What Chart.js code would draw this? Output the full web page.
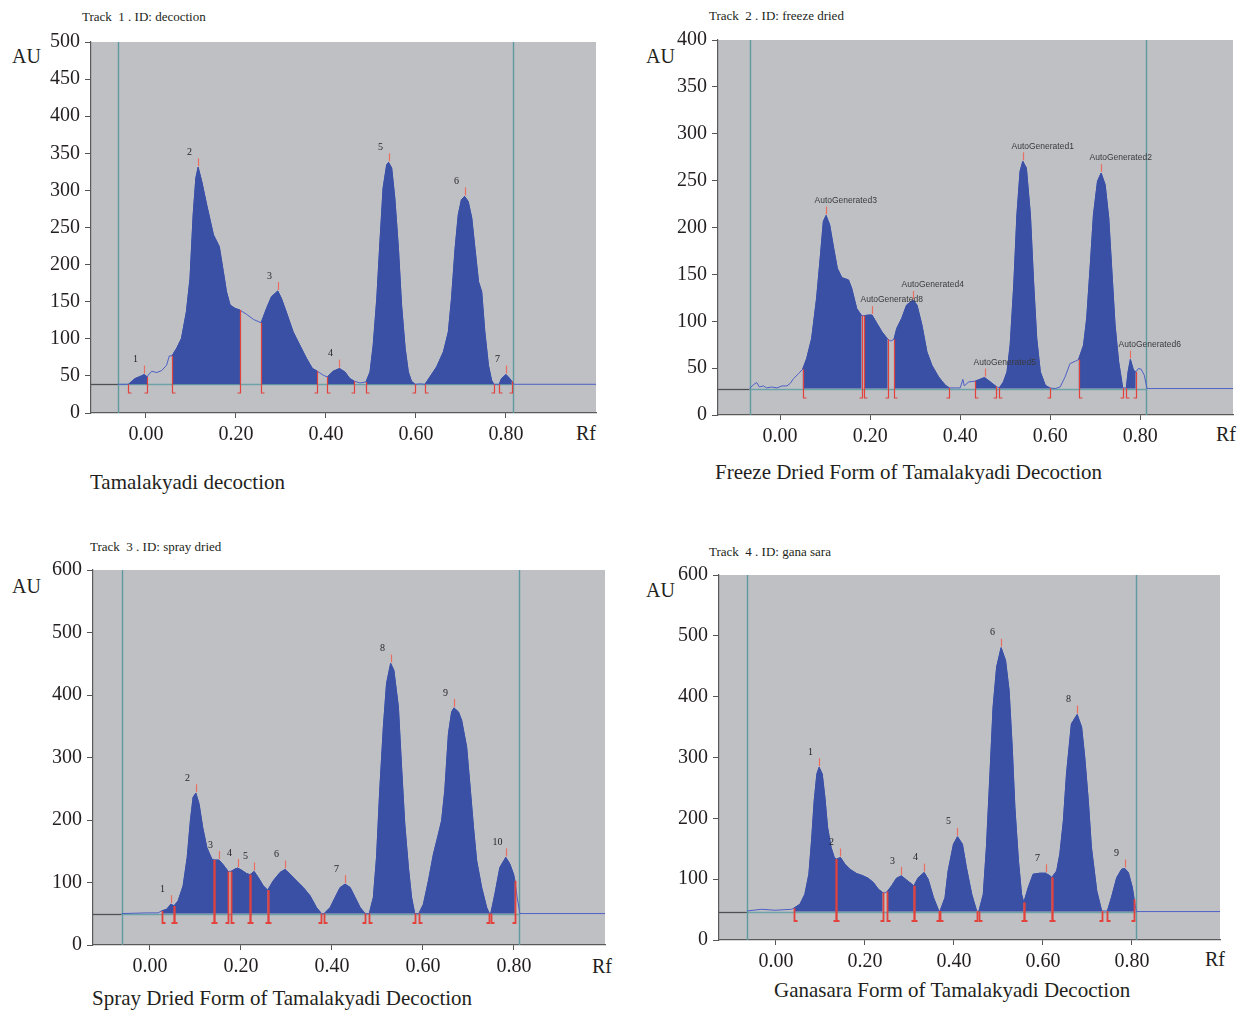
<!DOCTYPE html>
<html>
<head>
<meta charset="utf-8">
<script src="https://cdn.jsdelivr.net/npm/chart.js@4.4.1/dist/chart.umd.min.js"></script>
<style>
  body { margin: 0; width: 1247px; height: 1011px; background: #fff; position: relative; overflow: hidden;
         font-family: "Liberation Serif", "DejaVu Serif", serif; color: #231f20; }
  .box { position: absolute; }
  .txt { position: absolute; white-space: pre; line-height: 1; }
  .track { font-size: 13px; }
  .big { font-size: 20px; }
  .cap { font-size: 21px; }
</style>
</head>
<body>

<div class="txt track" style="left:82px;top:10px">Track  1 . ID: decoction</div>
<div class="txt big" style="left:12px;top:46px">AU</div>
<div class="txt big" style="left:576px;top:423px">Rf</div>
<div class="txt cap" style="left:90px;top:472px">Tamalakyadi decoction</div>
<div class="box" style="left:31px;top:25px;width:575px;height:428px"><canvas id="c1"></canvas></div>

<div class="txt track" style="left:709px;top:9px">Track  2 . ID: freeze dried</div>
<div class="txt big" style="left:646px;top:46px">AU</div>
<div class="txt big" style="left:1216px;top:424px">Rf</div>
<div class="txt cap" style="left:715px;top:462px">Freeze Dried Form of Tamalakyadi Decoction</div>
<div class="box" style="left:658px;top:23px;width:585px;height:432px"><canvas id="c2"></canvas></div>

<div class="txt track" style="left:90px;top:540px">Track  3 . ID: spray dried</div>
<div class="txt big" style="left:12px;top:576px">AU</div>
<div class="txt big" style="left:592px;top:956px">Rf</div>
<div class="txt cap" style="left:92px;top:988px">Spray Dried Form of Tamalakyadi Decoction</div>
<div class="box" style="left:33px;top:553px;width:582px;height:432px"><canvas id="c3"></canvas></div>

<div class="txt track" style="left:709px;top:545px">Track  4 . ID: gana sara</div>
<div class="txt big" style="left:646px;top:580px">AU</div>
<div class="txt big" style="left:1205px;top:949px">Rf</div>
<div class="txt cap" style="left:774px;top:980px">Ganasara Form of Tamalakyadi Decoction</div>
<div class="box" style="left:659px;top:558px;width:571px;height:422px"><canvas id="c4"></canvas></div>

<script>
const rfTicks = [0, 0.2, 0.4, 0.6, 0.8];

// Track 1: decoction
const t1Rf = [-0.062, -0.039, -0.024, -0.010, -0.004, 0.003, 0.005, 0.013, 0.024, 0.035, 0.046, 0.052,
  0.058, 0.068, 0.079, 0.090, 0.098, 0.105, 0.111, 0.116, 0.124, 0.135, 0.150, 0.163, 0.172, 0.179, 0.187, 0.198, 0.209,
  0.224, 0.239, 0.256, 0.268, 0.279, 0.293, 0.301, 0.313, 0.327, 0.342, 0.357, 0.370, 0.381,
  0.394, 0.403, 0.416, 0.430, 0.442, 0.453, 0.463, 0.476,
  0.489, 0.498, 0.505, 0.513, 0.520, 0.527, 0.535, 0.539, 0.546, 0.553, 0.561, 0.568, 0.576, 0.583, 0.590, 0.598,
  0.610, 0.620, 0.631, 0.646, 0.661, 0.672, 0.679, 0.687, 0.694, 0.701, 0.708, 0.716, 0.724, 0.731, 0.739, 0.746,
  0.753, 0.761, 0.768, 0.773, 0.785, 0.790, 0.800, 0.807, 0.813, 0.818, 1.02];
const t1Au = [38.7, 38.7, 46.4, 50.0, 51.8, 48.6, 51.0, 56.3, 54.5, 57.2, 64.4, 77.0,
  77.0, 86.9, 100.5, 136.5, 181.5, 267.1, 316.7, 331.1, 312.2, 280.6, 240.1, 224.3, 190.5, 163.5, 145.5, 141.0, 138.7,
  132.9, 126.1, 121.6, 141.0, 156.8, 164.4, 154.5, 134.2, 109.5, 91.4, 73.4, 59.9, 56.3,
  50.9, 48.6, 56.3, 59.9, 55.4, 46.4, 42.8, 40.5,
  41.9, 55.4, 91.4, 154.5, 231.1, 303.2, 334.7, 337.8, 330.2, 289.6, 222.1, 145.5, 86.9, 55.4, 42.8, 38.7,
  39.5, 38.7, 48.6, 62.2, 82.4, 109.5, 154.5, 222.1, 267.1, 287.4, 291.9, 285.1, 262.6, 222.1, 177.0, 163.5,
  109.5, 64.4, 44.1, 38.7, 38.7, 46.4, 51.8, 47.3, 42.8, 38.7, 38.7];
const t1Base = 38.7;
const t1Front = [-0.062, 0.815];
const t1Start = [-0.039, 0.058, 0.256, 0.403, 0.489, 0.620, 0.785];
const t1Top = [-0.004, 0.116, 0.293, 0.430, 0.539, 0.708, 0.800];
const t1End = [0.003, 0.209, 0.381, 0.463, 0.598, 0.773, 0.813];
const t1Names = ['1', '2', '3', '4', '5', '6', '7'];

// Track 2: freeze dried
const t2Rf = [-0.068, -0.059, -0.052, -0.046, -0.037, -0.030, -0.019, -0.007, 0.004, 0.015, 0.022, 0.030, 0.041,
  0.050, 0.059, 0.070, 0.081, 0.089, 0.096, 0.102, 0.110, 0.119, 0.127, 0.137, 0.152, 0.159, 0.170, 0.181,
  0.187, 0.196, 0.204, 0.215, 0.226, 0.239, 0.246,
  0.253, 0.259, 0.270, 0.281, 0.295, 0.304, 0.315, 0.326, 0.337, 0.352, 0.367, 0.376,
  0.389, 0.400, 0.406, 0.409, 0.419, 0.433, 0.444, 0.454, 0.467, 0.480,
  0.487, 0.496, 0.504, 0.511, 0.519, 0.526, 0.533, 0.539, 0.547, 0.556, 0.563, 0.570, 0.578, 0.589, 0.599,
  0.611, 0.622, 0.633, 0.644, 0.656, 0.663, 0.674, 0.681, 0.689, 0.696, 0.705, 0.713, 0.722, 0.730, 0.737, 0.744,
  0.752, 0.761, 0.769, 0.773, 0.778, 0.785, 0.790, 0.796, 0.802, 0.809, 0.815, 1.02];
const t2Au = [28.2, 32.4, 34.6, 29.9, 31.0, 28.9, 29.9, 28.9, 31.0, 31.0, 33.5, 38.9, 44.2,
  48.8, 60.2, 81.6, 124.4, 167.2, 206.4, 212.8, 202.9, 177.9, 156.5, 146.5, 144.0, 135.1, 113.7, 105.9,
  105.9, 106.6, 106.6, 97.7, 88.8, 80.9, 78.8,
  80.9, 92.3, 103.0, 117.3, 122.6, 117.3, 95.9, 67.4, 53.1, 40.6, 31.7, 28.9,
  28.9, 28.9, 38.1, 31.0, 35.3, 36.0, 38.1, 39.9, 35.3, 30.3,
  28.9, 35.3, 46.0, 74.5, 138.7, 213.5, 259.9, 270.6, 263.5, 213.5, 142.2, 81.6, 46.0, 31.7, 28.9,
  28.2, 29.9, 40.6, 54.9, 57.4, 59.2, 74.5, 103.0, 160.1, 213.5, 249.2, 258.1, 245.6, 210.0, 152.9, 95.9,
  56.7, 28.9, 28.9, 46.0, 59.2, 47.8, 46.0, 49.6, 48.8, 42.4, 28.2, 28.2];
const t2Base = 28.2;
const t2Front = [-0.068, 0.813];
const t2Start = [0.050, 0.187, 0.253, 0.433, 0.487, 0.663, 0.769];
const t2Top = [0.102, 0.204, 0.295, 0.454, 0.539, 0.713, 0.778];
const t2End = [0.181, 0.239, 0.376, 0.480, 0.599, 0.761, 0.790];
const t2Names = ['AutoGenerated3', 'AutoGenerated8', 'AutoGenerated4', 'AutoGenerated5', 'AutoGenerated1', 'AutoGenerated2', 'AutoGenerated6'];

// Track 3: spray dried
const t3Rf = [-0.062, -0.037, -0.007, 0.018, 0.026, 0.037, 0.046, 0.053, 0.062, 0.073, 0.082, 0.089, 0.095, 0.101,
  0.108, 0.116, 0.125, 0.136, 0.141, 0.152, 0.161, 0.172, 0.178, 0.187, 0.193, 0.201, 0.212, 0.220, 0.229, 0.238,
  0.249, 0.259, 0.271, 0.286, 0.297, 0.308, 0.322, 0.337, 0.352, 0.366, 0.377,
  0.383, 0.396, 0.407, 0.418, 0.429, 0.440, 0.451, 0.462, 0.473,
  0.482, 0.491, 0.498, 0.505, 0.513, 0.520, 0.529, 0.536, 0.546, 0.553, 0.560, 0.568, 0.575, 0.582,
  0.591, 0.601, 0.612, 0.623, 0.634, 0.641, 0.648, 0.656, 0.663, 0.668, 0.678, 0.685, 0.696, 0.703, 0.711, 0.718,
  0.729, 0.740, 0.746, 0.749, 0.758, 0.769, 0.782, 0.791, 0.799, 0.802, 0.807, 0.813, 1.02];
const t3Au = [50.3, 50.8, 51.4, 51.4, 54.6, 57.2, 65.3, 62.6, 70.6, 94.7, 140.2, 199.0, 236.5, 242.9,
  225.8, 188.3, 156.2, 137.5, 135.9, 135.9, 128.4, 117.7, 117.7, 121.5, 123.1, 119.9, 114.5, 112.4, 117.7, 108.1,
  94.7, 87.7, 102.7, 116.1, 120.9, 113.4, 102.7, 92.0, 78.7, 59.9, 50.3,
  50.3, 59.9, 76.0, 92.0, 97.4, 92.0, 76.0, 59.9, 50.3,
  50.3, 76.0, 140.2, 247.2, 348.8, 418.4, 450.5, 439.8, 380.9, 284.6, 193.7, 124.1, 76.0, 50.3,
  50.3, 65.3, 102.7, 145.5, 177.6, 199.0, 247.2, 338.1, 372.9, 379.4, 372.9, 359.5, 316.7, 257.9, 188.3, 134.8,
  92.0, 59.9, 50.3, 50.3, 81.3, 124.1, 140.2, 129.5, 113.4, 102.7, 76.0, 50.3, 50.3];
const t3Base = 50.3;
const t3Front = [-0.062, 0.812];
const t3Start = [0.026, 0.053, 0.141, 0.178, 0.220, 0.259, 0.383, 0.482, 0.591, 0.749];
const t3Top = [0.046, 0.101, 0.152, 0.193, 0.229, 0.297, 0.429, 0.529, 0.668, 0.782];
const t3End = [0.053, 0.141, 0.172, 0.220, 0.259, 0.377, 0.473, 0.582, 0.746, 0.802];
const t3Names = ['1', '2', '3', '4', '5', '6', '7', '8', '9', '10'];

// Track 4: gana sara
const t4Rf = [-0.064, -0.032, -0.002, 0.035, 0.040, 0.054, 0.065, 0.074, 0.080, 0.086, 0.092, 0.097, 0.104, 0.110,
  0.116, 0.124, 0.131, 0.136, 0.145, 0.155, 0.166, 0.181, 0.196, 0.207, 0.219, 0.230, 0.240, 0.245,
  0.250, 0.260, 0.271, 0.282, 0.294, 0.310, 0.320, 0.333, 0.342, 0.354, 0.366,
  0.369, 0.380, 0.387, 0.399, 0.408, 0.419, 0.428, 0.440, 0.451,
  0.456, 0.466, 0.473, 0.481, 0.488, 0.496, 0.506, 0.516, 0.524, 0.531, 0.537, 0.545, 0.552, 0.557,
  0.567, 0.578, 0.593, 0.606, 0.616, 0.620, 0.631, 0.638, 0.646, 0.653, 0.664, 0.677, 0.687, 0.694, 0.702, 0.709,
  0.721, 0.732, 0.745, 0.754, 0.766, 0.777, 0.784, 0.792, 0.801, 0.805, 0.810, 1.02];
const t4Au = [47.8, 50.5, 48.9, 50.5, 52.2, 58.8, 75.2, 108.2, 163.1, 229.0, 272.9, 283.9, 272.9, 234.5,
  185.1, 152.1, 135.6, 132.9, 135.6, 124.7, 116.4, 109.3, 105.4, 101.6, 94.5, 83.5, 78.0, 77.4,
  79.6, 89.0, 101.6, 105.4, 98.3, 89.0, 102.7, 110.9, 99.9, 69.7, 47.8,
  47.8, 69.7, 113.7, 157.6, 169.7, 157.6, 119.2, 75.2, 47.8,
  46.7, 75.2, 152.1, 272.9, 382.8, 448.7, 480.5, 459.6, 410.2, 316.9, 218.0, 130.1, 75.2, 61.5,
  86.2, 108.2, 109.8, 109.8, 105.4, 102.7, 113.7, 141.1, 196.0, 272.9, 355.3, 370.7, 349.8, 300.4, 229.0, 152.1,
  80.7, 47.8, 47.8, 69.7, 102.7, 116.4, 117.5, 110.9, 86.2, 67.0, 46.7, 46.7];
const t4Base = 46.7;
const t4Front = [-0.064, 0.810];
const t4Start = [0.040, 0.136, 0.250, 0.310, 0.369, 0.456, 0.557, 0.620, 0.745];
const t4Top = [0.097, 0.145, 0.282, 0.333, 0.408, 0.506, 0.606, 0.677, 0.784];
const t4End = [0.136, 0.240, 0.310, 0.366, 0.451, 0.557, 0.620, 0.732, 0.805];
const t4Names = ['1', '2', '3', '4', '5', '6', '7', '8', '9'];

function auAt(rf, au, v) {
  let best = 0;
  for (let i = 1; i < rf.length; i++) {
    if (Math.abs(rf[i] - v) < Math.abs(rf[best] - v)) best = i;
  }
  return au[best];
}

const densitoPlugin = {
  id: 'densito',
  beforeDraw(chart) {
    const { ctx, chartArea: a } = chart;
    ctx.save();
    ctx.fillStyle = '#bfc0c4';
    ctx.fillRect(a.left, a.top, a.right - a.left, a.bottom - a.top);
    ctx.restore();
  },
  beforeDatasetsDraw(chart, args, o) {
    const { ctx, chartArea: a, scales: { x, y } } = chart;
    const yb = Math.round(y.getPixelForValue(o.base)) + 0.5;
    const f0 = x.getPixelForValue(o.front[0]);
    const f1 = x.getPixelForValue(o.front[1]);
    ctx.save();
    ctx.lineWidth = 1.3;
    ctx.strokeStyle = '#505052';
    ctx.beginPath(); ctx.moveTo(a.left, yb); ctx.lineTo(f0, yb); ctx.stroke();
    ctx.strokeStyle = '#6da3a6';
    ctx.beginPath(); ctx.moveTo(f0, yb); ctx.lineTo(f1, yb); ctx.stroke();
    ctx.lineWidth = 1.4;
    ctx.strokeStyle = '#5f9aa0';
    [f0, f1].forEach(f => {
      const px = Math.round(f) + 0.5;
      ctx.beginPath(); ctx.moveTo(px, a.top); ctx.lineTo(px, a.bottom); ctx.stroke();
    });
    ctx.restore();
  },
  afterDatasetsDraw(chart, args, o) {
    const { ctx, scales: { x, y } } = chart;
    const yb = Math.round(y.getPixelForValue(o.base));
    ctx.save();
    ctx.strokeStyle = '#e3413c';
    ctx.lineWidth = o.edge;
    const edge = (v, dir) => {
      const px = Math.round(x.getPixelForValue(v)) + 0.5;
      const top = y.getPixelForValue(auAt(o.rf, o.au, v));
      ctx.beginPath();
      ctx.moveTo(px + 3 * dir, yb + 9);
      ctx.lineTo(px, yb + 9);
      ctx.lineTo(px, Math.min(top, yb + 1));
      ctx.stroke();
    };
    o.starts.forEach(s => edge(s, 1));
    o.ends.forEach(e => edge(e, -1));
    ctx.strokeStyle = '#ea6f62';
    ctx.lineWidth = 1.2;
    ctx.textBaseline = 'middle';
    if (o.sans) {
      ctx.font = '8.5px "Liberation Sans", Arial, sans-serif';
      ctx.fillStyle = '#3a3a3c';
      ctx.textAlign = 'left';
    } else {
      ctx.font = '10px "Liberation Serif", serif';
      ctx.fillStyle = '#231f20';
      ctx.textAlign = 'center';
    }
    o.tops.forEach((t, i) => {
      const px = Math.round(x.getPixelForValue(t)) + 0.5;
      const py = y.getPixelForValue(auAt(o.rf, o.au, t));
      ctx.beginPath(); ctx.moveTo(px, py - 1); ctx.lineTo(px, py - 9); ctx.stroke();
      if (o.sans) ctx.fillText(o.names[i], px - 12, py - 15);
      else ctx.fillText(o.names[i], px - 9, py - 15);
    });
    ctx.restore();
  }
};

function drawTrack(id, rf, au, base, front, starts, tops, ends, names, xMin, xMax, yMax, yStep, sans, edgeWidth) {
  const pts = rf.map((v, i) => ({ x: v, y: au[i] }));
  const datasets = [{
    data: pts, borderColor: '#4d60c6', borderWidth: 1, pointRadius: 0, fill: false, order: 2
  }];
  starts.forEach((s, i) => {
    datasets.push({
      data: pts.filter(p => p.x >= s - 1e-6 && p.x <= ends[i] + 1e-6),
      borderColor: '#3a50a4', backgroundColor: '#3a50a4', borderWidth: 1, pointRadius: 0,
      fill: { value: base }, order: 1
    });
  });
  const tickFont = { family: '"Liberation Serif", serif', size: 20 };
  new Chart(document.getElementById(id), {
    type: 'line',
    data: { datasets },
    plugins: [densitoPlugin],
    options: {
      responsive: true,
      maintainAspectRatio: false,
      animation: false,
      layout: { padding: { top: 12, right: 10, left: 0, bottom: 0 } },
      plugins: {
        legend: { display: false },
        tooltip: { enabled: false },
        densito: { rf, au, base, front, starts, tops, ends, names, sans, edge: edgeWidth }
      },
      scales: {
        x: {
          type: 'linear', min: xMin, max: xMax,
          afterBuildTicks: s => { s.ticks = rfTicks.map(v => ({ value: v })); },
          afterFit: s => { s.height = 40; },
          ticks: { callback: v => v.toFixed(2), font: tickFont, color: '#231f20', padding: 5, maxRotation: 0, autoSkip: false },
          grid: { drawOnChartArea: false, tickLength: 5, color: '#555' },
          border: { color: '#5a5a5a', width: 1.2 }
        },
        y: {
          min: 0, max: yMax,
          afterFit: s => { s.width = 60; },
          ticks: { stepSize: yStep, font: tickFont, color: '#231f20', padding: 5, autoSkip: false },
          grid: { drawOnChartArea: false, tickLength: 6, color: '#555' },
          border: { color: '#5a5a5a', width: 1.2 }
        }
      }
    }
  });
}

drawTrack('c1', t1Rf, t1Au, t1Base, t1Front, t1Start, t1Top, t1End, t1Names, -0.122, 1.0, 500, 50, false, 1.2);
drawTrack('c2', t2Rf, t2Au, t2Base, t2Front, t2Start, t2Top, t2End, t2Names, -0.138, 1.006, 400, 50, true, 1.2);
drawTrack('c3', t3Rf, t3Au, t3Base, t3Front, t3Start, t3Top, t3End, t3Names, -0.125, 1.0, 600, 100, false, 1.8);
drawTrack('c4', t4Rf, t4Au, t4Base, t4Front, t4Start, t4Top, t4End, t4Names, -0.128, 0.998, 600, 100, false, 1.8);
</script>
</body>
</html>
